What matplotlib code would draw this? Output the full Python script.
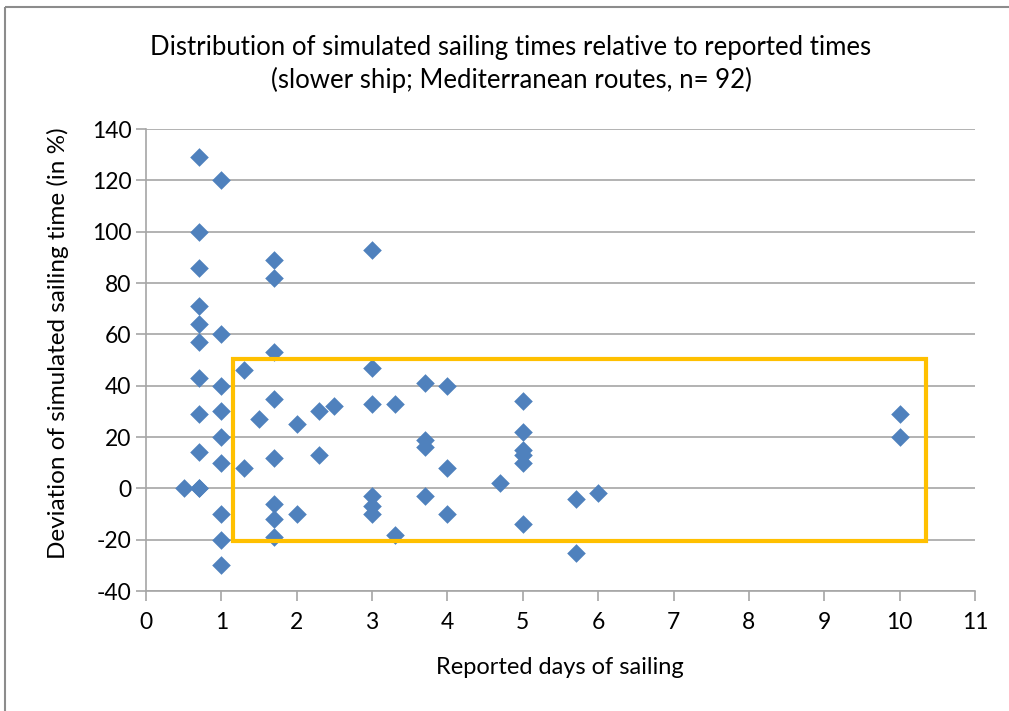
import matplotlib.pyplot as plt
from matplotlib.patches import Rectangle
from matplotlib.lines import Line2D

plt.rcParams['font.family'] = ['Lato', 'DejaVu Sans']
plt.rcParams['axes.unicode_minus'] = False

# reported days of sailing and deviation of simulated time (%)
days = [0.5,
        0.7, 0.7, 0.7, 0.7, 0.7, 0.7, 0.7, 0.7, 0.7, 0.7, 0.7,
        1.0, 1.0, 1.0, 1.0, 1.0, 1.0, 1.0, 1.0, 1.0,
        1.3, 1.3, 1.5,
        1.7, 1.7, 1.7, 1.7, 1.7, 1.7, 1.7, 1.7,
        2.0, 2.0, 2.3, 2.3, 2.5,
        3.0, 3.0, 3.0, 3.0, 3.0, 3.0,
        3.3, 3.3,
        3.7, 3.7, 3.7, 3.7,
        4.0, 4.0, 4.0,
        4.7,
        5.0, 5.0, 5.0, 5.0, 5.0, 5.0,
        5.7, 5.7, 6.0,
        10.0, 10.0]
deviation = [0,
             129, 100, 86, 71, 64, 57, 43, 29, 14, 0, 0,
             120, 60, 40, 30, 20, 10, -10, -20, -30,
             46, 8, 27,
             89, 82, 53, 35, 12, -6, -12, -19,
             25, -10, 30, 13, 32,
             93, 47, 33, -3, -7, -10,
             33, -18,
             41, 19, 16, -3,
             40, 8, -10,
             2,
             34, 22, 15, 13, 10, -14,
             -4, -25, -2,
             29, 20]

# highlighted region
box_x = (1.16, 10.35)
box_y = (-20.5, 50.5)

W, H = 1009, 711
fig = plt.figure(figsize=(W / 100, H / 100), dpi=100)
ax = fig.add_axes([146 / W, 1 - 591 / H, (975 - 146) / W, (591 - 129) / H])

ax.scatter(days, deviation, marker='D', s=90, color='#4F81BD', zorder=3, linewidths=0)

ax.add_patch(Rectangle((box_x[0], box_y[0]), box_x[1] - box_x[0], box_y[1] - box_y[0],
                       fill=False, edgecolor='#FFC000', linewidth=3, zorder=4))

ax.set_xlim(0, 11)
ax.set_ylim(-40, 140)
ax.set_xticks(range(0, 12))
ax.set_yticks(range(-40, 141, 20))
ax.grid(axis='y', color='#A6A6A6', linewidth=1.2)
ax.set_axisbelow(True)
for s in ['top', 'right']:
    ax.spines[s].set_visible(False)
for s in ['left', 'bottom']:
    ax.spines[s].set_color('#A6A6A6')
    ax.spines[s].set_linewidth(1.2)
ax.tick_params(axis='both', colors='#A6A6A6', labelcolor='black', labelsize=16.5, length=7, width=1.2)
ax.tick_params(axis='x', pad=8)

fig.text(560 / W, 1 - 667 / H, 'Reported days of sailing', ha='center', va='center', fontsize=17)
fig.text(58 / W, 1 - 343 / H, 'Deviation of simulated sailing time (in %)',
         ha='center', va='center', rotation=90, fontsize=17.5)

fig.text(511 / W, 1 - 47 / H, 'Distribution of simulated sailing times relative to reported times',
         ha='center', va='center', fontsize=18.5)
fig.text(511 / W, 1 - 80 / H, '(slower ship; Mediterranean routes, n= 92)',
         ha='center', va='center', fontsize=18.5)

# outer chart frame (left and top edges visible)
fig.add_artist(Line2D([5 / W, 1.0], [1 - 7 / H, 1 - 7 / H], color='#8C8C8C', linewidth=1.5,
                      solid_capstyle='butt'))
fig.add_artist(Line2D([5 / W, 5 / W], [0, 1 - 7 / H], color='#8C8C8C', linewidth=1.5,
                      solid_capstyle='butt'))

fig.savefig('out.png', dpi=100)
